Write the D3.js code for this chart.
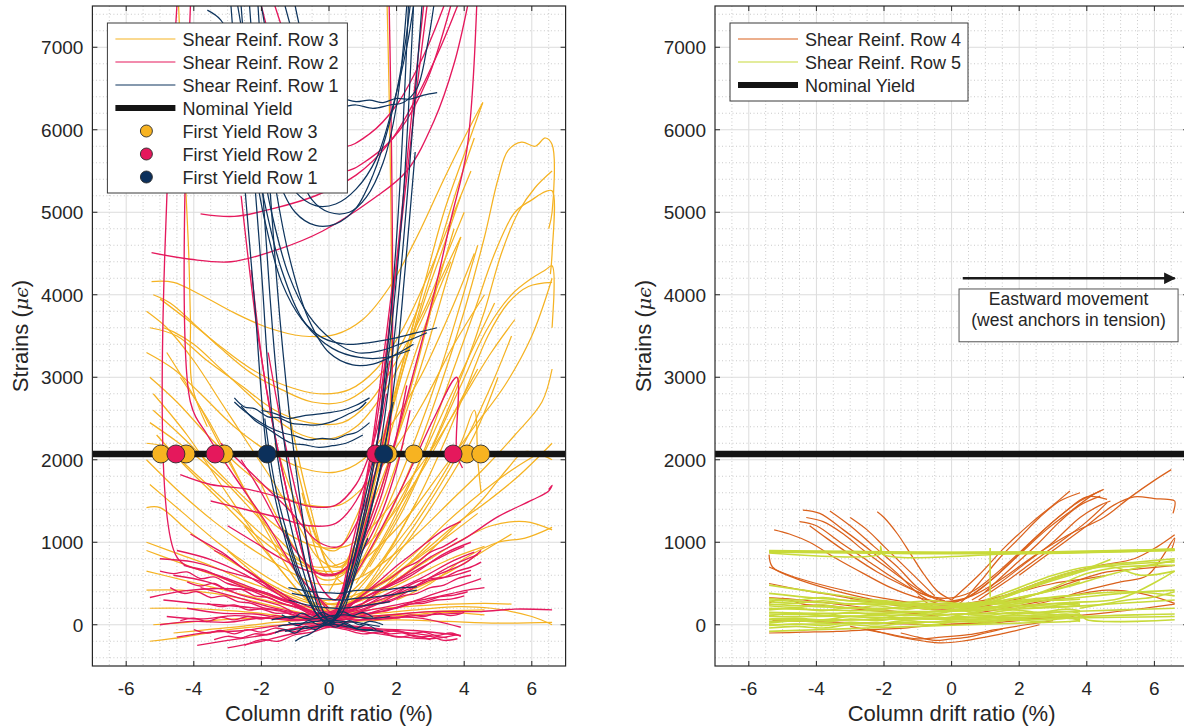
<!DOCTYPE html>
<html>
<head>
<meta charset="utf-8">
<script src="https://cdn.jsdelivr.net/npm/d3@7"></script>
<style>
  body { margin: 0; background: #fff; }
  svg text { font-family: "Liberation Sans", Arial, Helvetica, sans-serif; fill: #262626; }
</style>
</head>
<body>
<div id="chart"></div>
<script>
// ---- axes ----
const xDomain = [-7, 7];
const yDomain = [-500, 7500];
const xTicks = [-6, -4, -2, 0, 2, 4, 6];
const yTicks = [0, 1000, 2000, 3000, 4000, 5000, 6000, 7000];
const nominalYield = 2070;

// ---- first yield points (drift %, on the nominal yield line) ----
const firstYieldRow3 = [-4.97, -4.23, -3.1, 1.75, 2.51, 4.08, 4.49];
const firstYieldRow2 = [-4.53, -3.37, 1.38, 3.67];
const firstYieldRow1 = [-1.83, 1.62];

// ---- strain traces: [drift %, strain] ----
const row3Traces = [
  [[-5.25,4160],[-4.6,4150],[-3.8,4000],[-2.8,3780],[-1.8,3600],[-0.8,3500],[0.2,3520],[1.0,3700],[1.8,4100],[2.6,4700],[3.4,5400],[4.0,5900],[4.55,6330]],
  [[-5.0,3950],[-4.2,3700],[-3.3,3400],[-2.3,3100],[-1.3,2900],[-0.3,2800],[0.6,2850],[1.4,3100],[2.2,3600],[3.0,4300],[3.6,4900],[4.2,5500]],
  [[-5.3,3600],[-4.5,3500],[-3.6,3200],[-2.6,2900],[-1.6,2600],[-0.6,2450],[0.4,2450],[1.2,2700],[2.0,3200],[2.8,3800],[3.5,4500],[4.0,5000]],
  [[-5.4,3300],[-4.6,3100],[-3.8,2800],[-2.8,2400],[-1.8,2100],[-0.8,1900],[0.2,1850],[1.0,2000],[1.8,2400],[2.7,3000],[3.6,3800],[4.3,4500]],
  [[-5.3,3000],[-4.5,2700],[-3.6,2300],[-2.6,1900],[-1.6,1600],[-0.6,1450],[0.3,1450],[1.1,1700],[1.9,2100],[2.8,2700],[3.7,3400],[4.6,4000]],
  [[-5.2,2600],[-4.4,2300],[-3.4,1900],[-2.4,1500],[-1.4,1150],[-0.4,950],[0.5,950],[1.3,1200],[2.1,1600],[3.0,2100],[3.9,2700],[4.8,3300],[5.5,3700]],
  [[-5.1,2300],[-4.2,1900],[-3.2,1500],[-2.2,1100],[-1.2,800],[-0.2,650],[0.7,700],[1.6,1000],[2.5,1400],[3.4,1900],[4.3,2400],[5.2,2900],[6.0,3500],[6.6,4200]],
  [[-5.4,2000],[-4.4,1600],[-3.4,1250],[-2.4,950],[-1.4,700],[-0.4,500],[0.6,520],[1.6,750],[2.6,1100],[3.6,1500],[4.6,1900],[5.5,2300],[6.3,2700],[6.6,3100]],
  [[-5.3,1700],[-4.3,1350],[-3.3,1000],[-2.3,700],[-1.3,450],[-0.3,300],[0.7,350],[1.7,550],[2.7,850],[3.7,1200],[4.7,1500],[5.6,1800],[6.6,2200]],
  [[-5.4,1420],[-5.0,1420],[-4.2,1150],[-3.2,850],[-2.2,600],[-1.2,380],[-0.2,250],[0.8,300],[1.8,500],[2.8,750],[3.8,1000],[4.8,1200],[5.8,1250],[6.6,1150]],
  [[-5.4,650],[-4.4,550],[-3.4,450],[-2.4,350],[-1.4,250],[-0.4,180],[0.6,200],[1.6,300],[2.6,450],[3.6,650],[4.6,900],[5.4,1100]],
  [[-5.3,-200],[-4.3,-150],[-3.3,-80],[-2.3,-30],[-1.3,0],[-0.3,20],[0.7,40],[2.0,60],[3.5,40],[5.0,20],[6.6,30]],
  [[-5.4,420],[-4.4,420],[-3.4,380],[-2.4,300],[-1.4,200],[-0.4,120],[0.6,150],[1.6,200],[2.6,230],[3.6,250],[4.6,260],[5.4,250]],
  [[-5.3,200],[-4.3,200],[-3.3,180],[-2.3,150],[-1.3,100],[-0.3,60],[0.7,80],[1.7,120],[2.7,150],[3.7,170],[4.6,180]],
  [[-1.2,2600],[-0.6,1500],[0,700],[0.5,500],[1.0,1200],[1.6,2200],[2.2,3200],[2.8,4100],[3.4,5000],[4.0,5700],[4.55,6330]],
  [[-1.0,2000],[-0.4,1100],[0.2,600],[0.8,900],[1.4,1800],[2.0,2800],[2.6,3700],[3.2,4500],[3.8,5300],[4.3,5900]],
  [[-0.8,1600],[-0.2,900],[0.4,700],[1.0,1300],[1.6,2200],[2.2,3100],[2.8,3900],[3.4,4600],[3.9,5200]],
  [[-0.6,1200],[0,600],[0.6,700],[1.2,1400],[1.8,2300],[2.4,3100],[3.0,3800],[3.6,4400]],
  [[0.5,400],[1.5,1100],[2.5,2000],[3.3,2900],[4.0,3800],[4.6,4700],[5.0,5400],[5.3,5750],[5.7,5850],[6.1,5800],[6.4,5900],[6.6,5820],[6.6,5000],[6.5,4800]],
  [[0.8,500],[1.8,1200],[2.8,2100],[3.6,3000],[4.3,3800],[4.9,4500],[5.5,5000],[6.0,5150],[6.4,5250],[6.6,5260],[6.6,4500],[6.55,4250]],
  [[1.0,600],[2.0,1300],[3.0,2100],[3.9,2900],[4.7,3600],[5.4,4000],[6.0,4200],[6.4,4300],[6.6,4350],[6.6,3600]],
  [[0.5,200],[1.5,500],[2.5,850],[3.5,1250],[4.5,1600],[5.5,1900],[6.3,2100]],
  [[0.4,300],[1.4,700],[2.4,1200],[3.2,1700],[3.9,2200],[4.3,2600],[4.4,2000],[4.5,1600]],
  [[-5.2,2800],[-4.2,2300],[-3.2,1700],[-2.2,1100],[-1.2,550],[-0.3,200],[0.5,150]],
  [[-4.8,3300],[-3.9,2700],[-3.0,2000],[-2.0,1300],[-1.0,650],[0,250],[0.8,300]],
  [[-4.4,3000],[-3.6,2500],[-2.7,1800],[-1.8,1100],[-0.9,500],[0,200]],
  [[0,100],[1.0,400],[2.0,900],[3.0,1500],[4.0,2200],[4.8,2900],[5.4,3500]],
  [[0.3,150],[1.3,500],[2.3,1000],[3.3,1600],[4.3,2300],[5.0,3000]],
  [[-2.5,1200],[-1.5,700],[-0.5,250],[0.3,150],[1.0,400],[1.8,900],[2.6,1500]],
  [[-3.0,900],[-2.0,550],[-1.0,250],[0,120],[1.0,250],[2.0,600],[3.0,1000]],
  [[-4.45,7500],[-4.35,6500],[-4.25,5400],[-4.15,4500],[-4.1,3700],[-4.05,2900],[-3.6,2400]],
  [[1.1,1500],[1.45,1900],[1.72,2200],[1.72,7500]],
  [[-5.4,3800],[-4.8,3600],[-4.0,3200],[-3.2,2700],[-2.4,2200],[-1.6,1700],[-0.9,1200],[-0.3,800],[0.3,700],[0.9,1000],[1.5,1600],[2.1,2400],[2.7,3300],[3.2,4100],[3.7,4800]],
  [[-5.3,2450],[-4.6,2250],[-3.8,2000],[-3.0,1700],[-2.2,1350],[-1.4,1000],[-0.6,700],[0.2,600],[1.0,800],[1.8,1300],[2.6,1900],[3.4,2600],[4.2,3300],[4.9,3900]],
  [[-5.4,2200],[-4.8,2150],[-4.4,2000],[-3.6,1700],[-2.8,1400],[-2.0,1100],[-1.2,850],[-0.4,700],[0.4,750],[1.2,1000],[2.0,1400],[2.8,1900],[3.6,2500],[4.4,3100]],
  [[-4.9,3600],[-4.6,3550],[-4.0,3400],[-3.2,3100],[-2.4,2800],[-1.6,2500],[-0.8,2300],[0,2250],[0.8,2400],[1.6,2800],[2.4,3400],[3.2,4100],[3.9,4700]],
  [[-5.2,4000],[-4.7,3900],[-4.0,3650],[-3.2,3350],[-2.3,3050],[-1.4,2850],[-0.5,2700],[0.4,2700],[1.2,2900],[2.0,3300],[2.7,3900]],
  [[0.6,300],[1.6,800],[2.6,1500],[3.4,2200],[4.1,2900],[4.7,3500],[5.3,3900],[5.9,4100],[6.6,4150]],
  [[1.2,700],[2.2,1400],[3.2,2300],[4.0,3100],[4.6,3800],[5.1,4500],[5.6,5000],[6.1,5300],[6.6,5500]],
  [[0.2,300],[1.0,800],[1.8,1500],[2.6,2300],[3.3,3100],[3.9,3900],[4.4,4600]],
  [[0.0,400],[0.8,1000],[1.6,1800],[2.3,2600],[3.0,3500],[3.5,4200],[3.9,4700]],
  [[1.5,400],[2.5,700],[3.5,1100],[4.5,1500],[5.3,1900],[5.8,2100],[6.6,2000]],
  [[2.0,300],[3.0,500],[4.0,800],[5.0,1000],[5.8,1050],[6.6,1180]],
  [[-5.4,900],[-4.4,750],[-3.4,600],[-2.4,450],[-1.4,300],[-0.4,200],[0.6,250],[1.6,400],[2.6,600],[3.6,800],[4.6,950]],
  [[-5.2,0],[-4.2,30],[-3.2,60],[-2.2,80],[-1.2,100],[-0.2,90],[0.8,120],[1.8,150],[2.8,190],[3.8,220],[4.8,200],[6.0,100],[6.6,0]],
  [[-4.6,-100],[-3.6,-60],[-2.6,-20],[-1.6,30],[-0.6,60],[0.4,80],[1.4,100],[2.4,120],[3.4,150],[4.6,120]],
  [[-5.4,1000],[-4.4,850],[-3.4,700],[-2.4,520],[-1.4,380],[-0.4,250],[0.6,300],[1.6,500],[2.6,800],[3.6,1100],[4.4,1350]],
  [[-2.0,1700],[-1.4,1200],[-0.8,800],[-0.2,550],[0.4,600],[1.0,950],[1.6,1500],[2.2,2200]],
  [[-1.6,2200],[-1.0,1500],[-0.4,1000],[0.2,900],[0.8,1300],[1.4,2000],[2.0,2900],[2.6,3800]]
];

const row2Traces = [
  [[-1.6,7500],[-1.0,6800],[-0.3,6200],[0.4,5800],[1.2,5950],[2.0,6300],[2.8,6900],[3.4,7500]],
  [[-2.0,7500],[-1.3,6500],[-0.5,5800],[0.4,5500],[1.2,5650],[2.1,6000],[2.9,6600],[3.6,7500]],
  [[-5.25,4510],[-4.1,4430],[-2.9,4400],[-1.5,4550],[-0.2,4770],[1.3,5160],[2.3,5500],[3.1,6100],[3.7,6800],[4.1,7500]],
  [[-3.8,4980],[-2.8,4950],[-1.6,5050],[-0.4,5200],[0.8,5450],[1.8,5850],[2.6,6400],[3.3,7000],[3.8,7500]],
  [[-2.3,4300],[-1.9,2970],[-1.4,1900],[-0.8,900],[-0.1,140],[0.3,200],[0.8,900],[1.38,2070],[1.7,3300],[2.1,4700],[2.6,6500],[2.9,7500]],
  [[-2.6,5200],[-2.1,3500],[-1.6,2300],[-1.0,1200],[-0.4,400],[0.1,150],[0.6,700],[1.1,1700],[1.5,2700],[2.0,4400],[2.4,6000],[2.8,7500]],
  [[-1.8,3300],[-1.3,2200],[-0.8,1300],[-0.3,500],[0.2,300],[0.7,1000],[1.2,2000],[1.6,3200],[1.9,4200]],
  [[-4.4,1820],[-3.5,1700],[-2.5,1650],[-1.5,1550],[-0.5,1430],[0.2,1450],[0.8,1700],[1.2,2070],[1.5,2500],[1.8,3200]],
  [[-3.5,1500],[-2.5,1400],[-1.5,1300],[-0.6,1200],[0.2,1230],[0.8,1500],[1.3,2000],[1.7,2800]],
  [[-3.2,2200],[-2.2,1800],[-1.2,1400],[-0.3,1000],[0.3,950],[0.9,1300],[1.4,1900],[1.8,2600]],
  [[-4.5,7500],[-4.5,820],[-3.6,650],[-2.5,450],[-1.3,250],[0,100]],
  [[-4.1,7500],[-4.1,2700],[-3.6,2300],[-2.8,1800],[-1.8,1200],[-0.9,600],[0,200]],
  [[0.2,200],[0.7,700],[1.2,1400],[1.55,1900],[1.78,2250],[1.78,7500]],
  [[0.3,300],[1.2,900],[2.2,1700],[3.1,2500],[3.78,3000],[3.78,2070],[3.95,1900]],
  [[0.5,500],[1.5,1600],[2.4,2900],[3.1,4000],[3.6,4900],[4.08,5760],[4.37,7500]],
  [[-5.0,800],[-4.0,760],[-3.0,640],[-2.0,520],[-1.0,290],[0,150],[1.0,220],[2.0,330],[3.0,570],[4.0,740],[4.5,900]],
  [[-5.3,330],[-4.3,410],[-3.3,440],[-2.2,410],[-1.2,270],[0,120],[1.2,260],[2.4,440],[3.6,710],[4.4,850]],
  [[-5.0,0],[-4.0,40],[-3.0,30],[-2.0,80],[-1.0,50],[0,90],[1.5,110],[3.0,160],[4.5,160],[5.5,190],[6.6,180]],
  [[-4.6,600],[-3.6,520],[-2.6,360],[-1.5,240],[-0.5,50],[0.5,110],[1.6,280],[2.6,520],[3.6,590],[4.2,660]],
  [[-4.5,-150],[-3.5,-90],[-2.5,-70],[-1.5,-10],[0,10],[1.5,-50],[2.5,-70],[3.9,-130]],
  [[-4.2,200],[-3.2,140],[-2.2,130],[-1.2,70],[0,70],[1.3,60],[2.6,110],[3.9,140]],
  [[0,100],[1.0,320],[2.0,540],[3.0,820],[4.0,1040],[5.0,1310],[6.0,1510],[6.5,1620],[6.6,1690],[6.5,1640]],
  [[-3.9,-250],[-3.0,-190],[-2.0,-130],[-1.0,-40],[0,0],[1,-40],[2.2,-90],[3.5,-160]],
  [[-4.5,900],[-3.5,790],[-2.5,610],[-1.5,370],[-0.5,160],[0.5,140],[1.5,410],[2.5,640],[3.5,860],[4.0,950]],
  [[-3.8,450],[-2.8,340],[-1.8,220],[-0.8,130],[0,40],[1.0,110],[2.0,210],[3.0,360],[4.0,490],[4.5,560]],
  [[0,150],[1.2,360],[2.4,590],[3.4,860],[4.2,1000]],
  [[-4.8,100],[-3.8,70],[-2.8,110],[-1.8,80],[-0.8,60],[0.2,20],[1.2,70],[2.5,90],[3.9,-30]],
  [[-4.9,300],[-3.9,260],[-2.9,230],[-1.9,190],[-0.9,140],[0.1,100],[1.1,170],[2.1,250],[3.1,330],[4.1,420],[4.6,450]],
  [[-4.3,720],[-3.3,600],[-2.3,450],[-1.3,300],[-0.3,120],[0.7,170],[1.7,370],[2.7,560],[3.7,780],[4.3,880]],
  [[-3.0,-280],[-2.0,-200],[-1.0,-100],[0,-20],[1.0,-80],[2.0,-140],[3.0,-170],[3.8,-120]],
  [[-5.0,650],[-4.6,620],[-4.2,640],[-3.8,560],[-3.4,580],[-3.0,500],[-2.6,460],[-2.2,420],[-1.8,380],[-1.4,300],[-1.0,260],[-0.6,180],[-0.2,120],[0.2,100],[0.6,150],[1.0,190],[1.4,250],[1.8,280],[2.2,350],[2.6,380],[3.0,450],[3.4,480],[3.8,560],[4.2,600]],
  [[-4.7,450],[-4.3,380],[-3.9,400],[-3.5,330],[-3.1,350],[-2.7,280],[-2.3,260],[-1.9,200],[-1.5,180],[-1.1,120],[-0.7,100],[-0.3,60],[0.1,40],[0.5,70],[0.9,100],[1.3,150],[1.7,170],[2.1,220],[2.5,260],[2.9,290],[3.3,340],[3.7,360],[4.1,400]],
  [[-4.4,50],[-4.0,80],[-3.6,40],[-3.2,90],[-2.8,60],[-2.4,100],[-2.0,70],[-1.6,110],[-1.2,80],[-0.8,100],[-0.4,70],[0,90],[0.4,60],[0.8,100],[1.2,70],[1.6,110],[2.0,80],[2.4,120],[2.8,100],[3.2,140],[3.6,110],[4.0,150]],
  [[-4.0,-60],[-3.6,-100],[-3.2,-70],[-2.8,-110],[-2.4,-60],[-2.0,-90],[-1.6,-40],[-1.2,-60],[-0.8,-20],[-0.4,-30],[0,0],[0.4,-20],[0.8,-60],[1.2,-40],[1.6,-90],[2.0,-70],[2.4,-110],[2.8,-90],[3.2,-130],[3.6,-100],[3.9,-140]],
  [[-2.5,-250],[-2.0,-180],[-1.5,-200],[-1.0,-120],[-0.5,-90],[0,-30],[0.5,-60],[1.0,-110],[1.5,-90],[2.0,-150],[2.5,-130],[3.0,-180]],
  [[-3.4,900],[-3.0,820],[-2.6,700],[-2.2,600],[-1.8,480],[-1.4,380],[-1.0,260],[-0.6,170],[-0.2,80],[0.2,120],[0.6,240],[1.0,360],[1.4,470],[1.8,560],[2.2,680],[2.6,760],[3.0,880],[3.4,950],[3.8,1050]],
  [[-4.1,1100],[-3.6,980],[-3.1,860],[-2.6,700],[-2.1,560],[-1.6,400],[-1.1,260],[-0.6,140],[-0.1,60],[0.4,150],[0.9,330],[1.4,500],[1.9,680],[2.4,840],[2.9,1000],[3.4,1150],[3.9,1250]],
  [[-2.6,2000],[-2.0,1600],[-1.4,1150],[-0.8,800],[-0.2,600],[0.4,650],[1.0,1000],[1.5,1500],[1.9,2100],[2.3,2900]],
  [[-3.0,1200],[-2.2,1000],[-1.4,800],[-0.6,650],[0.2,620],[0.9,850],[1.5,1300],[2.0,1900],[2.4,2600]],
  [[-4.2,520],[-3.8,470],[-3.4,500],[-3.0,420],[-2.6,430],[-2.2,350],[-1.8,330],[-1.4,260],[-1.0,220],[-0.6,140],[-0.2,90],[0.2,130],[0.6,200],[1.0,260],[1.4,330],[1.8,360],[2.2,440],[2.6,470],[3.0,540],[3.4,570],[3.8,650],[4.2,700],[4.5,760]],
  [[-3.6,260],[-3.2,220],[-2.8,240],[-2.4,180],[-2.0,190],[-1.6,140],[-1.2,140],[-0.8,90],[-0.4,80],[0,50],[0.4,80],[0.8,130],[1.2,140],[1.6,190],[2.0,200],[2.4,250],[2.8,260],[3.2,300],[3.6,310],[4.0,350]],
  [[-3.4,-180],[-3.0,-140],[-2.6,-160],[-2.2,-110],[-1.8,-120],[-1.4,-70],[-1.0,-80],[-0.6,-30],[-0.2,-20],[0.2,-10],[0.6,-50],[1.0,-70],[1.4,-60],[1.8,-110],[2.2,-100],[2.6,-150],[3.0,-140],[3.4,-190],[3.8,-170]]
];

const row1Traces = [
  [[-2.9,7500],[-2.55,5600],[-2.2,3900],[-1.83,2070],[-1.4,1200],[-0.9,550],[-0.4,150],[0,20],[0.4,280],[0.9,900],[1.3,1500],[1.62,2070],[1.95,3000],[2.25,4300],[2.55,5730]],
  [[-2.6,7500],[-2.3,5900],[-2.0,4300],[-1.7,2600],[-1.3,1500],[-0.8,700],[-0.3,150],[0.1,50],[0.5,450],[1.0,1200],[1.45,2000],[1.8,3000],[2.15,4400],[2.45,5900],[2.75,7500]],
  [[-2.35,7500],[-2.05,5800],[-1.75,4000],[-1.45,2600],[-1.05,1500],[-0.6,600],[-0.15,100],[0.2,100],[0.6,700],[1.05,1500],[1.5,2400],[1.85,3600],[2.2,5200],[2.5,7500]],
  [[-2.1,7500],[-1.8,5600],[-1.45,3700],[-1.1,2300],[-0.7,1100],[-0.3,300],[0.05,30],[0.4,300],[0.9,1100],[1.35,2000],[1.7,3200],[2.05,5000],[2.35,7500]],
  [[-1.9,2500],[-1.6,1700],[-1.2,1050],[-0.7,450],[-0.2,60],[0.3,100],[0.8,700],[1.25,1400],[1.6,2070],[1.9,2700]],
  [[-1.3,7500],[-0.9,6950],[-0.5,6600],[-0.1,6420],[0.4,6380],[0.8,6340],[1.2,6360],[1.6,6330],[2.0,6380],[2.4,6370],[2.8,6420],[3.2,6450]],
  [[-1.0,7500],[-0.6,6800],[-0.2,6350],[0.3,6280],[0.8,6300],[1.3,6260],[1.8,6300],[2.2,6330],[2.6,6500],[2.9,7000],[3.1,7500]],
  [[-3.6,7450],[-3.2,7330],[-2.7,6900],[-2.2,6300],[-1.6,5700],[-1.0,5250],[-0.4,5080],[0.2,5100],[0.8,5280],[1.4,5650],[1.9,6300],[2.3,7000],[2.5,7500]],
  [[-2.7,7500],[-2.2,6400],[-1.6,5500],[-1.0,5000],[-0.4,4840],[0.2,4860],[0.8,5050],[1.3,5450],[1.8,6100],[2.2,6900],[2.4,7500]],
  [[-2.0,7500],[-1.5,6400],[-1.0,5600],[-0.5,5150],[0,5000],[0.6,5000],[1.1,5180],[1.6,5600],[2.0,6300],[2.3,7500]],
  [[-2.3,5800],[-1.9,4900],[-1.4,4150],[-0.8,3700],[-0.2,3480],[0.5,3400],[1.2,3420],[1.9,3470],[2.6,3540],[3.2,3600]],
  [[-2.1,5900],[-1.7,5000],[-1.2,4250],[-0.6,3750],[0.1,3450],[0.8,3300],[1.5,3320],[2.2,3420],[2.9,3540]],
  [[-1.7,5600],[-1.2,4500],[-0.6,3700],[0,3300],[0.7,3150],[1.3,3160],[1.9,3260],[2.5,3400]],
  [[-2.5,6400],[-2.0,5300],[-1.4,4300],[-0.7,3650],[0.1,3350],[0.9,3240],[1.7,3240],[2.4,3330]],
  [[-2.8,2750],[-2.5,2640],[-2.2,2620],[-1.8,2520],[-1.5,2510],[-1.1,2440],[-0.8,2430],[-0.4,2420],[0,2450],[0.3,2500],[0.6,2560],[0.9,2620],[1.1,2700]],
  [[-2.8,2700],[-2.5,2590],[-2.2,2500],[-1.8,2400],[-1.4,2330],[-1.0,2290],[-0.6,2240],[-0.2,2260],[0.2,2250],[0.5,2300],[0.8,2330],[1.2,2450]],
  [[-2.6,2650],[-2.2,2480],[-1.9,2400],[-1.5,2290],[-1.1,2200],[-0.7,2180],[-0.3,2150],[0.1,2170],[0.5,2200],[1.0,2300]],
  [[-2.0,2600],[-1.6,2560],[-1.2,2500],[-0.8,2530],[-0.4,2550],[0,2570],[0.4,2600],[0.8,2660],[1.2,2750]],
  [[-1.2,450],[-0.8,420],[-0.5,400],[-0.1,390],[0.3,380],[0.7,410],[1.0,420],[1.4,420],[1.8,430],[2.2,450],[2.6,460]],
  [[-1.1,380],[-0.7,350],[-0.4,330],[0,310],[0.4,300],[0.8,320],[1.2,330],[1.6,350],[2.0,370],[2.3,400],[2.6,420]],
  [[-1.2,300],[-0.5,230],[0.3,200],[1.0,230],[1.8,280]],
  [[-1.5,-20],[-1.1,10],[-0.8,20],[-0.4,40],[0,60],[0.4,40],[0.8,30],[1.2,0],[1.5,-20]],
  [[-1.0,-200],[-0.8,-150],[-0.6,-120],[-0.2,-20],[0.3,30],[0.8,-50],[1.3,-60]],
  [[-1.7,60],[-1.3,90],[-1.0,100],[-0.6,70],[-0.3,80],[0.1,110],[0.5,120],[0.9,90],[1.3,80],[1.8,100]],
  [[-1.3,-80],[-0.9,-50],[-0.6,-40],[-0.2,-10],[0.2,0],[0.6,-30],[1.0,-60],[1.6,-80]],
  [[-1.3,1150],[-0.9,600],[-0.4,150],[0,0],[0.5,300],[1.0,900],[1.15,1050]],
  [[-1.6,-100],[-1.3,-60],[-1.0,-100],[-0.7,-20],[-0.4,-60],[-0.1,10],[0.2,-30],[0.5,20],[0.8,-40],[1.1,0],[1.4,-60]],
  [[-1.4,120],[-1.1,80],[-0.8,140],[-0.5,90],[-0.2,150],[0.1,100],[0.4,160],[0.7,110],[1.0,150],[1.3,90]],
  [[-1.2,30],[-0.9,-10],[-0.6,50],[-0.3,0],[0,40],[0.3,-10],[0.6,50],[0.9,0],[1.2,40],[1.6,0]]
];

const row4Traces = [
  [[-4.4,1390],[-3.9,1350],[-3.2,1150],[-2.4,900],[-1.6,620],[-0.9,350],[-0.3,250],[0.4,320],[1.2,550],[2.0,850],[2.8,1150],[3.6,1400],[4.2,1580],[4.5,1640]],
  [[-3.6,1380],[-3.0,1200],[-2.3,950],[-1.6,700],[-1.0,450],[-0.4,300],[0.3,300],[1.0,480],[1.8,780],[2.6,1100],[3.3,1350],[4.0,1550],[4.6,1520]],
  [[-5.25,1150],[-4.8,1100],[-4.2,1000],[-3.4,800],[-2.6,620],[-1.8,450],[-1.0,330],[-0.2,280],[0.6,350],[1.5,560],[2.5,850],[3.5,1100],[4.5,1300],[5.3,1550],[6.0,1750],[6.5,1880]],
  [[-4.5,1250],[-4.0,1200],[-3.3,1000],[-2.5,780],[-1.7,560],[-0.9,380],[-0.2,320],[0.6,400],[1.4,650],[2.2,950],[3.0,1250],[3.8,1500],[4.4,1620]],
  [[-5.4,850],[-5.3,700],[-4.6,560],[-3.6,430],[-2.6,330],[-1.6,250],[-0.6,200],[0.4,220],[1.4,330],[2.4,480],[3.4,620],[4.4,720],[5.4,800],[6.1,950],[6.6,1090]],
  [[2.0,600],[3.0,900],[4.0,1200],[4.8,1450],[5.4,1550],[6.0,1530],[6.4,1520],[6.6,1500],[6.55,1350]],
  [[-2.5,-50],[-1.5,-150],[-0.8,-200],[-0.3,-220],[0.3,-200],[1.0,-150],[1.8,-80],[2.6,0]],
  [[-3.0,-20],[-2.0,-100],[-1.0,-170],[-0.3,-150],[0.5,-120],[1.3,-60],[2.2,0],[3.0,50]],
  [[-5.4,-100],[-4.4,-90],[-3.4,-80],[-2.4,-60],[-1.4,-40],[-0.4,0],[0.6,20],[1.6,60],[2.6,80],[3.6,100]],
  [[-5.4,500],[-4.4,420],[-3.4,350],[-2.4,280],[-1.4,220],[-0.4,180],[0.6,200],[1.6,280],[2.6,380],[3.6,520],[4.6,640],[5.6,680],[6.6,720]],
  [[-5.4,330],[-4.4,300],[-3.4,250],[-2.4,200],[-1.4,150],[-0.4,120],[0.6,140],[1.6,200],[2.6,280],[3.6,360],[4.6,420],[5.6,380],[6.6,260]],
  [[-5.3,50],[-4.3,40],[-3.3,30],[-2.3,20],[-1.3,10],[-0.3,0],[0.7,10],[1.7,40],[2.7,80],[3.7,110],[4.7,150],[5.7,200],[6.6,250]],
  [[-1.0,350],[-0.4,200],[0.2,250],[0.8,500],[1.4,800],[2.0,1050],[2.6,1300],[3.2,1500],[3.8,1600]],
  [[-3.0,1300],[-2.5,1150],[-2.0,950],[-1.5,750],[-1.0,550],[-0.5,350]],
  [[0.0,300],[0.8,600],[1.6,950],[2.4,1250],[3.0,1450],[3.5,1620]],
  [[-4.2,1200],[-3.7,1050],[-3.0,850],[-2.2,640],[-1.4,470],[-0.6,330]],
  [[0.8,300],[1.6,520],[2.4,760],[3.2,1000],[4.0,1250],[4.6,1480]],
  [[-4.3,1300],[-3.8,1250],[-3.2,1100],[-2.6,900],[-2.0,720],[-1.4,540],[-0.8,380],[-0.2,290]],
  [[-2.2,1370],[-2.0,1300],[-1.6,1100],[-1.2,850],[-0.8,600],[-0.4,400],[0,300]],
  [[-5.4,700],[-4.8,600],[-4.0,500],[-3.0,400],[-2.0,320],[-1.0,260],[0,240],[1.0,300],[2.0,400],[3.0,500],[4.0,560],[4.6,600]],
  [[1.0,400],[1.8,700],[2.6,1000],[3.2,1250],[3.8,1450],[4.4,1560]],
  [[0.6,300],[1.4,500],[2.2,750],[3.0,1000],[3.8,1300],[4.4,1450],[4.7,1500]],
  [[-1.5,-100],[-1.0,-150],[-0.5,-190],[0,-170],[0.5,-150],[1.0,-100],[1.5,-50]],
  [[2.0,200],[3.0,300],[4.0,420],[5.0,520],[5.8,600],[6.6,1050],[6.5,900]],
  [[-5.4,260],[-5.0,320],[-4.4,250],[-3.6,230],[-2.8,190],[-2.0,160],[-1.2,140],[-0.4,100]]
];

const row5Traces = [
  [[-5.4,880],[-3,870],[0,860],[3,870],[6.6,900]],
  [[-5.4,890],[-2,880],[1,880],[4,890],[6.6,920]],
  [[-5.4,870],[-2.1,860],[-2.1,950],[-2.05,860],[2,860],[6.6,905]],
  [[-5.4,900],[-3,890],[0,875],[3,885],[6.6,910]],
  [[1.14,930],[1.14,340]],
  [[-5.4,480],[-4.4,420],[-3.4,360],[-2.4,300],[-1.4,250],[-0.4,220],[0.6,230],[1.6,300],[2.6,380],[3.6,480],[4.6,600],[5.6,700],[6.6,780]],
  [[-5.4,300],[-4,270],[-2.5,250],[-1,240],[0.5,250],[2,280],[3.5,320],[5,380],[6.6,420]],
  [[-5.4,200],[-4,180],[-2.5,170],[-1,160],[0.5,170],[2,190],[3.5,220],[5,260],[6.6,300]],
  [[-5.4,100],[-4,100],[-2.5,110],[-1,120],[0.5,130],[2,140],[3.5,160],[5,180],[6.6,200]],
  [[-5.4,0],[-4,10],[-2.5,20],[-1,30],[0.5,40],[2,60],[3.5,80],[5,90],[6.6,100]],
  [[-5.4,-80],[-4,-60],[-2.5,-40],[-1,-20],[0.5,0],[2,20],[3.5,40],[3.8,50]],
  [[-1,150],[0,180],[1,250],[2,400],[3,550],[4,680],[4.7,790]],
  [[0,100],[1,180],[2,300],[3,450],[4,620],[5,700],[6.6,720]],
  [[-5.4,380],[-4.2,330],[-3,290],[-1.8,250],[-0.6,220],[0.6,230],[1.8,270],[3,330],[4.2,380],[5.4,400],[6.6,350]],
  [[-5.4,150],[-4,140],[-2.5,140],[-1,150],[0.5,180],[2,230],[3.5,270],[5,320],[6.6,650]],
  [[-5.4,60],[-3,60],[0,80],[3,100],[3.8,120],[4,60],[6.6,60]],
  [[-5.4,250],[-4,220],[-2.5,200],[-1,200],[0.5,210],[2,230],[3.5,260],[3.8,250]],
  [[-5.4,130],[-4,120],[-2.5,90],[-1,80],[0.5,90],[2,110],[3.5,120],[3.8,100]],
  [[-5.4,40],[-4,50],[-2.5,60],[-1,70],[0.5,60],[2,80],[3.5,90],[3.8,40]],
  [[0.5,200],[1.5,320],[2.5,470],[3.5,600],[4.5,720],[5.5,760],[6.6,800]],
  [[-3,300],[-2,280],[-1,260],[0,250],[1,270],[2,330],[3,420],[3.8,520]],
  [[-5.4,180],[-4.6,200],[-3.8,170],[-3.0,210],[-2.2,180],[-1.4,220],[-0.6,190],[0.2,230],[1.0,200],[1.8,240],[2.6,210],[3.4,250],[3.8,230]],
  [[-5.4,280],[-4.6,260],[-3.8,290],[-3.0,250],[-2.2,270],[-1.4,240],[-0.6,260],[0.2,230],[1.0,260],[1.8,250],[2.6,290],[3.4,300],[3.8,310]],
  [[-5.4,20],[-4.6,50],[-3.8,30],[-3.0,70],[-2.2,50],[-1.4,90],[-0.6,70],[0.2,100],[1.0,80],[1.8,120],[2.6,100],[3.4,130],[3.8,110]],
  [[-5.4,-40],[-4.6,-20],[-3.8,-40],[-3.0,0],[-2.2,-20],[-1.4,20],[-0.6,0],[0.2,40],[1.0,20],[1.8,60],[2.6,40],[3.4,80],[3.8,60]],
  [[-5.4,110],[-4.6,140],[-3.8,110],[-3.0,150],[-2.2,120],[-1.4,160],[-0.6,130],[0.2,170],[1.0,140],[1.8,180],[2.6,150],[3.4,190],[3.8,170]],
  [[-5.4,230],[-4.6,210],[-3.8,240],[-3.0,200],[-2.2,230],[-1.4,190],[-0.6,220],[0.2,180],[1.0,210],[1.8,200],[2.6,230],[3.4,220],[3.8,240]],
  [[-5.4,70],[-4.6,80],[-3.8,60],[-3.0,100],[-2.2,80],[-1.4,120],[-0.6,100],[0.2,130],[1.0,110],[1.8,150],[2.6,130],[3.4,160],[3.8,140]],
  [[-5.4,320],[-4.6,300],[-3.8,330],[-3.0,290],[-2.2,300],[-1.4,270],[-0.6,290],[0.2,260],[1.0,280],[1.8,290],[2.6,320],[3.4,350],[3.8,360]],
  [[-5.4,-10],[-4.6,10],[-3.8,-10],[-3.0,30],[-2.2,10],[-1.4,50],[-0.6,30],[0.2,60],[1.0,40],[1.8,80],[2.6,60],[3.4,100],[3.8,80]],
  [[0.4,220],[1.4,330],[2.4,480],[3.4,620],[4.4,700],[5.4,740],[6.6,760]],
  [[1.0,300],[2.0,450],[3.0,600],[4.0,700],[4.8,700],[5.6,600],[6.6,650]],
  [[3.8,200],[4.5,250],[5.2,300],[5.9,330],[6.6,400]],
  [[3.8,100],[4.6,110],[5.4,120],[6.6,130]]
];

// ---- layout ----
const W = 1184, H = 728;
const colors = { row3: "#F5B323", row2: "#E5195D", row1: "#0F355E", row4: "#DA611C", row5: "#C8DA3A" };

const svg = d3.select("#chart").append("svg")
    .attr("width", W)
    .attr("height", H);

const panels = [
  {
    id: "clipL", left: 92.4, top: 6, width: 473.2, height: 660,
    series: [
      { data: row3Traces, color: colors.row3, width: 1.25 },
      { data: row2Traces, color: colors.row2, width: 1.35 },
      { data: row1Traces, color: colors.row1, width: 1.25 }
    ],
    markers: [
      { data: firstYieldRow3, color: "#F7B321" },
      { data: firstYieldRow2, color: "#E5185C" },
      { data: firstYieldRow1, color: "#0C305B" }
    ],
    legend: { w: 240, entries: [
      { type: "line", color: colors.row3, label: "Shear Reinf. Row 3" },
      { type: "line", color: colors.row2, label: "Shear Reinf. Row 2" },
      { type: "line", color: colors.row1, label: "Shear Reinf. Row 1" },
      { type: "yield", label: "Nominal Yield" },
      { type: "dot", color: "#F7B321", label: "First Yield Row 3" },
      { type: "dot", color: "#E5185C", label: "First Yield Row 2" },
      { type: "dot", color: "#0C305B", label: "First Yield Row 1" }
    ]}
  },
  {
    id: "clipR", left: 715, top: 6, width: 473.2, height: 660,
    series: [
      { data: row4Traces, color: colors.row4, width: 1.25 },
      { data: row5Traces, color: colors.row5, width: 1.6 }
    ],
    markers: [],
    legend: { w: 238, entries: [
      { type: "line", color: colors.row4, label: "Shear Reinf. Row 4" },
      { type: "line", color: colors.row5, label: "Shear Reinf. Row 5" },
      { type: "yield", label: "Nominal Yield" }
    ]},
    note: true
  }
];

panels.forEach(drawPanel);

function drawPanel(p) {
  const x = d3.scaleLinear().domain(xDomain).range([p.left, p.left + p.width]);
  const y = d3.scaleLinear().domain(yDomain).range([p.top + p.height, p.top]);
  const g = svg.append("g");
  const bottom = p.top + p.height, right = p.left + p.width;

  svg.append("clipPath").attr("id", p.id)
    .append("rect")
      .attr("x", p.left).attr("y", p.top)
      .attr("width", p.width).attr("height", p.height);

  g.append("rect")
      .attr("x", p.left).attr("y", p.top)
      .attr("width", p.width).attr("height", p.height)
      .attr("fill", "#fff");

  // minor grid (dotted)
  const xMinor = x.ticks(28).filter(v => !xTicks.includes(v) && v > xDomain[0] && v < xDomain[1]);
  const yMinor = y.ticks(40).filter(v => !yTicks.includes(v) && v > yDomain[0] && v < yDomain[1]);
  g.selectAll(".gxm").data(xMinor).join("line")
      .attr("x1", d => x(d)).attr("x2", d => x(d))
      .attr("y1", p.top).attr("y2", bottom)
      .attr("stroke", "#bdbdbd").attr("stroke-width", 0.8)
      .attr("stroke-dasharray", "1,2.5");
  g.selectAll(".gym").data(yMinor).join("line")
      .attr("x1", p.left).attr("x2", right)
      .attr("y1", d => y(d)).attr("y2", d => y(d))
      .attr("stroke", "#bdbdbd").attr("stroke-width", 0.8)
      .attr("stroke-dasharray", "1,2.5");

  // major grid
  g.selectAll(".gx").data(xTicks).join("line")
      .attr("x1", d => x(d)).attr("x2", d => x(d))
      .attr("y1", p.top).attr("y2", bottom)
      .attr("stroke", "#dcdcdc").attr("stroke-width", 1);
  g.selectAll(".gy").data(yTicks).join("line")
      .attr("x1", p.left).attr("x2", right)
      .attr("y1", d => y(d)).attr("y2", d => y(d))
      .attr("stroke", "#dcdcdc").attr("stroke-width", 1);

  const plot = g.append("g").attr("clip-path", `url(#${p.id})`);
  const line = d3.line()
      .x(d => x(d[0]))
      .y(d => y(d[1]))
      .curve(d3.curveCatmullRom.alpha(0.5));

  p.series.forEach(s => {
    plot.append("g").selectAll("path").data(s.data).join("path")
        .attr("d", line)
        .attr("fill", "none")
        .attr("stroke", s.color)
        .attr("stroke-width", s.width)
        .attr("stroke-linejoin", "round");
  });

  plot.append("line")
      .attr("x1", x(xDomain[0])).attr("x2", x(xDomain[1]))
      .attr("y1", y(nominalYield)).attr("y2", y(nominalYield))
      .attr("stroke", "#141414").attr("stroke-width", 6.5);

  p.markers.forEach(m => {
    plot.append("g").selectAll("circle").data(m.data).join("circle")
        .attr("cx", d => x(d)).attr("cy", y(nominalYield)).attr("r", 9)
        .attr("fill", m.color).attr("stroke", "#2a2a2a").attr("stroke-width", 0.9);
  });

  // box and ticks
  g.append("rect")
      .attr("x", p.left).attr("y", p.top)
      .attr("width", p.width).attr("height", p.height)
      .attr("fill", "none").attr("stroke", "#262626").attr("stroke-width", 1.2);
  const tl = 5;
  g.selectAll(".tb").data(xTicks).join("path")
      .attr("d", d => `M${x(d)},${bottom}v${-tl}M${x(d)},${p.top}v${tl}`)
      .attr("stroke", "#262626");
  g.selectAll(".tl").data(yTicks).join("path")
      .attr("d", d => `M${p.left},${y(d)}h${tl}M${right},${y(d)}h${-tl}`)
      .attr("stroke", "#262626");

  g.selectAll(".xl").data(xTicks).join("text")
      .attr("x", d => x(d)).attr("y", bottom + 29)
      .attr("text-anchor", "middle").attr("font-size", 19)
      .text(d => d);
  g.selectAll(".yl").data(yTicks).join("text")
      .attr("x", p.left - 9).attr("y", d => y(d) + 7)
      .attr("text-anchor", "end").attr("font-size", 19)
      .text(d => d);

  g.append("text")
      .attr("x", x(0)).attr("y", bottom + 55)
      .attr("text-anchor", "middle").attr("font-size", 22)
      .text("Column drift ratio (%)");

  const yl = g.append("text")
      .attr("transform", `translate(${p.left - 64},${(p.top + bottom) / 2}) rotate(-90)`)
      .attr("text-anchor", "middle").attr("font-size", 22);
  yl.append("tspan").text("Strains (");
  yl.append("tspan").attr("font-family", "DejaVu Serif").attr("font-style", "italic")
      .attr("font-size", 19).text("μϵ");
  yl.append("tspan").text(")");

  // legend
  const L = p.legend, lx = p.left + 15, ly = 23, rowH = 23;
  const lg = g.append("g");
  lg.append("rect")
      .attr("x", lx).attr("y", ly)
      .attr("width", L.w).attr("height", L.entries.length * rowH + 9)
      .attr("fill", "#fff").attr("stroke", "#3a3a3a").attr("stroke-width", 1);
  L.entries.forEach((e, i) => {
    const cy = ly + 16 + i * rowH;
    if (e.type === "line") {
      lg.append("line").attr("x1", lx + 8).attr("x2", lx + 68)
          .attr("y1", cy).attr("y2", cy)
          .attr("stroke", e.color).attr("stroke-width", 1.2);
    } else if (e.type === "yield") {
      lg.append("line").attr("x1", lx + 8).attr("x2", lx + 68)
          .attr("y1", cy).attr("y2", cy)
          .attr("stroke", "#141414").attr("stroke-width", 6);
    } else {
      lg.append("circle").attr("cx", lx + 39).attr("cy", cy).attr("r", 6)
          .attr("fill", e.color).attr("stroke", "#2a2a2a").attr("stroke-width", 0.9);
    }
    lg.append("text").attr("x", lx + 75).attr("y", cy + 6.5)
        .attr("font-size", 18).text(e.label);
  });

  if (p.note) {
    const defs = svg.append("defs");
    defs.append("marker").attr("id", "arrowHead")
        .attr("viewBox", "0 0 10 10").attr("refX", 9).attr("refY", 5)
        .attr("markerWidth", 4.5).attr("markerHeight", 4.5)
        .attr("orient", "auto")
      .append("path").attr("d", "M0,0L10,5L0,10z").attr("fill", "#1a1a1a");
    g.append("line")
        .attr("x1", x(0.33)).attr("x2", x(6.6))
        .attr("y1", y(4200)).attr("y2", y(4200))
        .attr("stroke", "#1a1a1a").attr("stroke-width", 2.6)
        .attr("marker-end", "url(#arrowHead)");
    const bx = x(0.22), bw = x(6.7) - x(0.22);
    g.append("rect")
        .attr("x", bx).attr("y", y(4070))
        .attr("width", bw).attr("height", y(3430) - y(4070))
        .attr("fill", "#fff").attr("stroke", "#555").attr("stroke-width", 1);
    g.append("text").attr("x", bx + bw / 2).attr("y", y(3870))
        .attr("text-anchor", "middle").attr("font-size", 17.5)
        .text("Eastward movement");
    g.append("text").attr("x", bx + bw / 2).attr("y", y(3620))
        .attr("text-anchor", "middle").attr("font-size", 17.5)
        .text("(west anchors in tension)");
  }
}
</script>
</body>
</html>
